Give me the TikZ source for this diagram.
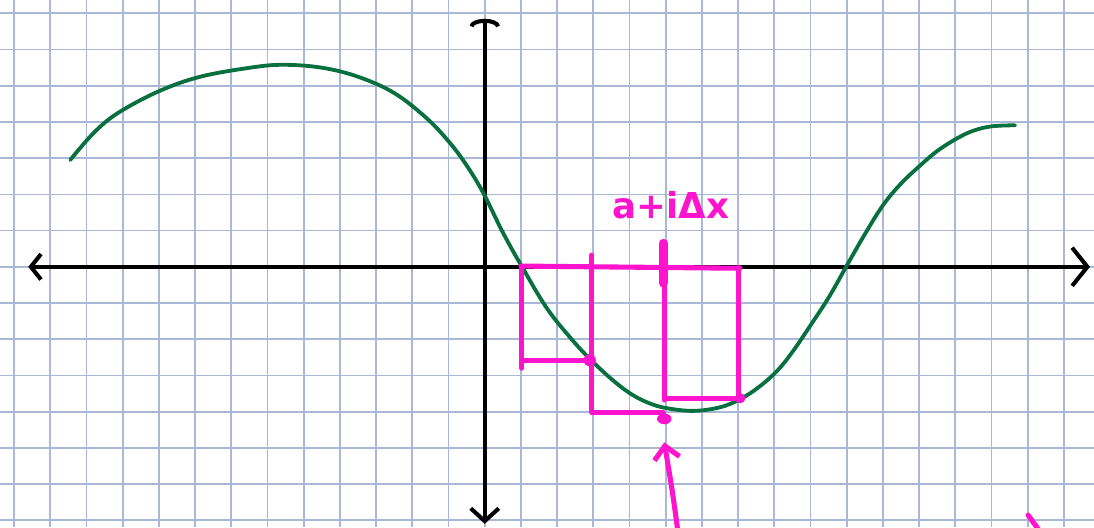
\documentclass[tikz,border=0pt]{standalone}
\usepackage{fontspec}
\newfontfamily\handfont{DejaVu Sans}
\usetikzlibrary{arrows.meta}
\definecolor{gridblue}{RGB}{168,184,214}
\definecolor{curvegreen}{RGB}{8,112,62}
\definecolor{penpink}{RGB}{255,20,205}

\begin{document}
\begin{tikzpicture}[x=0.5cm,y=0.5cm,
   gridline/.style={color=gridblue,line width=0.7pt},
   axisline/.style={color=black,line width=1.6pt,line cap=round},
   curveline/.style={color=curvegreen,line width=1.5pt,line cap=round},
   pinkline/.style={color=penpink,line width=2pt,line cap=round,line join=round}]

   \useasboundingbox (-13.39,-7.19) rectangle (16.83,7.37);
   \clip (-13.39,-7.19) rectangle (16.83,7.37);
   \fill[white] (-13.39,-7.19) rectangle (16.83,7.37);
   \draw[gridline,step=0.5cm] (-13.39,-7.19) grid (16.83,7.37);

   % axes
   \draw[axisline,{Straight Barb[length=4pt,width=10pt]}-{Straight Barb[length=6pt,width=15pt]}] (-12.61,0) -- (16.72,0);
   \draw[axisline,{Straight Barb[length=5pt,width=11pt]}-{Arc Barb[length=3pt,width=12pt]}] (0,-7.1) -- (0,6.85);

   % the function
   \draw[curveline] plot[smooth,tension=0.6] coordinates {
      (-11.45,2.95) (-10.8,3.70) (-10.13,4.25) (-9.0,4.85) (-7.86,5.25)
      (-6.48,5.50) (-5.57,5.58) (-4.5,5.50) (-3.5,5.25) (-2.5,4.80)
      (-1.6,4.10) (-0.96,3.42) (-0.5,2.80) (-0.04,2.04) (0.5,0.95)
      (1.03,0) (1.72,-1.15) (2.4,-2.0) (2.91,-2.55) (3.5,-3.10)
      (4.02,-3.50) (4.5,-3.75) (5.0,-3.90) (5.76,-3.98) (6.5,-3.88)
      (7.07,-3.65) (7.6,-3.30) (8.1,-2.85) (8.5,-2.35) (8.91,-1.75)
      (9.5,-0.85) (10.01,0.05) (10.5,0.90) (11.0,1.70) (11.5,2.30)
      (12.03,2.80) (12.5,3.20) (13.05,3.55) (13.5,3.76) (14.0,3.88)
      (14.65,3.91)};

   % rectangles
   \draw[pinkline] (1.0,0.02) -- (7.05,-0.04);
   \draw[pinkline] (1.02,0.02) -- (1.02,-2.80);
   \draw[pinkline] (1.02,-2.58) -- (2.91,-2.58);
   \draw[pinkline] (2.96,0.32) -- (2.96,-4.03) -- (4.93,-4.03);
   \draw[pinkline] (4.96,0.65) -- (4.96,-3.68);
   \draw[pinkline] (4.96,-3.63) -- (7.0,-3.63);
   \draw[pinkline] (7.0,-0.02) -- (7.0,-3.68);
   \draw[pinkline,line width=3.5pt] (4.93,0.65) -- (4.93,-0.45);
   \fill[penpink] (2.9,-2.58) circle (0.17);
   \fill[penpink] (7.06,-3.63) circle (0.14);
   \coordinate (xi) at (4.96,-4.2);
   \fill[penpink] (xi) ellipse (0.2 and 0.15);

   \node[text=penpink,font=\handfont\bfseries\fontsize{14}{14}\selectfont] (xlabel) at (5.14,1.70) {a+iΔx};

   \coordinate (tail) at (5.36,-7.5);
   \draw[pinkline,-{Straight Barb[length=5pt,width=10pt]}] (tail) .. controls (5.2,-6.3) .. ([yshift=-0.65cm/2]xi);
   \draw[pinkline] (15.01,-6.86) -- (15.4,-7.4);

\end{tikzpicture}
\end{document}
